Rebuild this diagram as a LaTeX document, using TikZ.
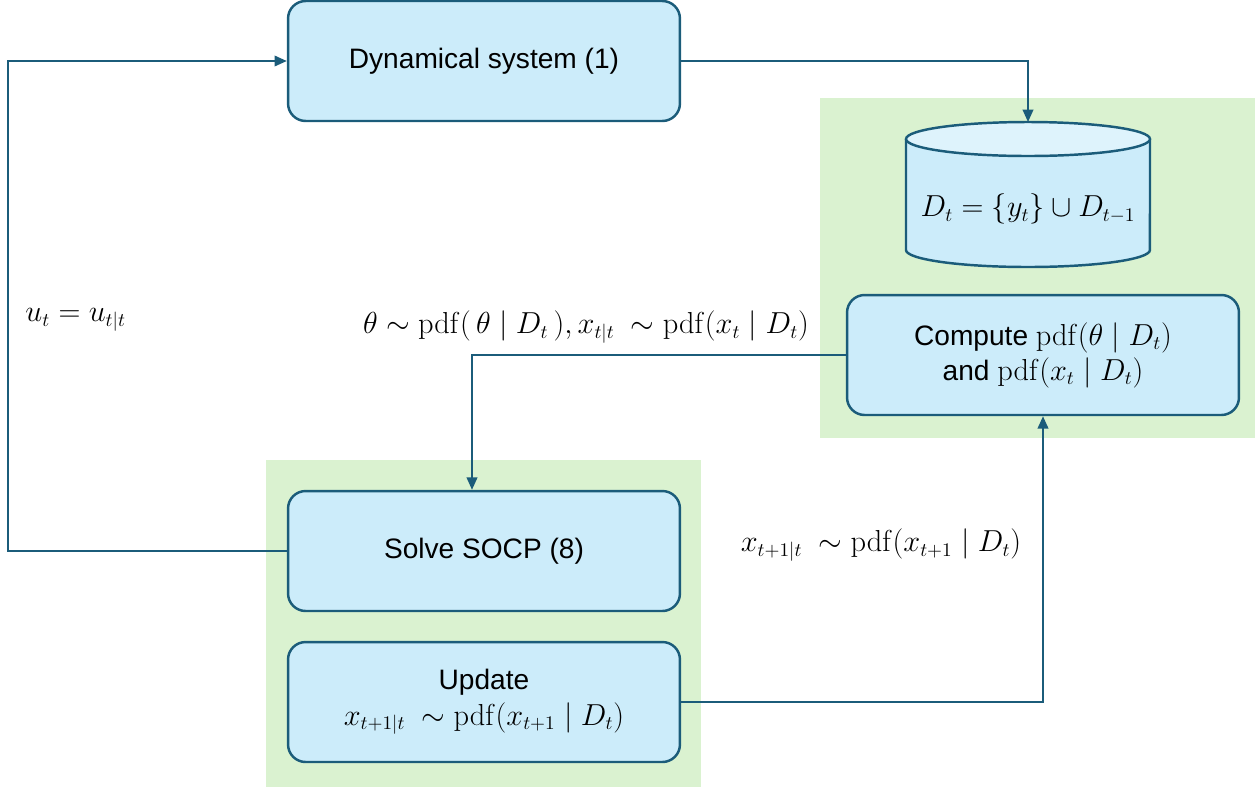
\documentclass[tikz,border=0pt]{standalone}
\usepackage[no-math]{fontspec}
\setmainfont{Liberation Sans}
\usetikzlibrary{arrows.meta}

\definecolor{edge}{RGB}{27,92,122}
\definecolor{boxfill}{RGB}{204,236,250}
\definecolor{topfill}{RGB}{222,243,252}
\definecolor{zone}{RGB}{218,242,208}

\tikzset{
    block/.style={draw=edge,fill=boxfill,line width=1.4pt,rounded corners=10pt,
        minimum width=7.84cm,minimum height=2.4cm,align=center,
        font=\fontsize{16}{20}\selectfont},
    link/.style={draw=edge,line width=1.1pt,-{Triangle[length=7pt,width=6pt]}},
    lbl/.style={font=\fontsize{16}{20}\selectfont,inner sep=0pt}
}

\begin{document}
\begin{tikzpicture}[x=0.02cm,y=-0.02cm]
        \useasboundingbox (0,0) rectangle (1258,789);
        \pgfmathsetmacro\rx{2.44}
        \pgfmathsetmacro\ry{0.34}
        \coordinate (storetop) at (1028,122);
        \coordinate (loop) at (8,551);

        % green zones
        \fill[zone] (820,98) rectangle (1255,438);
        \fill[zone] (266,460) rectangle (701,787);

        % blocks
        \node[block] (dyn) at (484,61) {Dynamical system (1)};
        \node[block] (comp) at (1043,355) {Compute $\mathrm{pdf}(\theta \mid D_t)$\\and $\mathrm{pdf}(x_t \mid D_t)$};
        \node[block] (socp) at (484,551) {Solve SOCP (8)};
        \node[block] (upd) at (484,702) {Update\\$x_{t+1|t}\ \sim \mathrm{pdf}(x_{t+1} \mid D_t)$};

        % data store
        \fill[boxfill] (906,139) -- (906,250) arc[start angle=180,end angle=360,x radius=\rx cm,y radius=\ry cm]
            -- (1150,139) arc[start angle=0,end angle=180,x radius=\rx cm,y radius=\ry cm] -- cycle;
        \draw[edge,line width=1.4pt] (906,139) -- (906,250) arc[start angle=180,end angle=360,x radius=\rx cm,y radius=\ry cm] -- (1150,139);
        \draw[edge,fill=topfill,line width=1.4pt] (1028,139) ellipse [x radius=\rx cm,y radius=\ry cm];
        \node[lbl] (store) at (1028,209) {$D_t = \{y_t\} \cup D_{t-1}$};

        % connectors
        \draw[link] (dyn.east) -| (storetop);
        \draw[link] (socp.west) -- (loop) |- (dyn.west);
        \draw[link] (comp.west) -| ([xshift=-0.24cm]socp.north);
        \draw[link] (upd.east) -| (comp.south);

        % labels
        \node[lbl,anchor=west] (ulab) at (25,320) {$u_t = u_{t|t}$};
        \node[lbl] (thlab) at (586,327) {$\theta \sim \mathrm{pdf}(\,\theta \mid D_t\,), x_{t|t}\ \sim \mathrm{pdf}(x_t \mid D_t)$};
        \node[lbl] (xlab) at (881,545) {$x_{t+1|t}\ \sim \mathrm{pdf}(x_{t+1} \mid D_t)$};
    \end{tikzpicture}
\end{document}
